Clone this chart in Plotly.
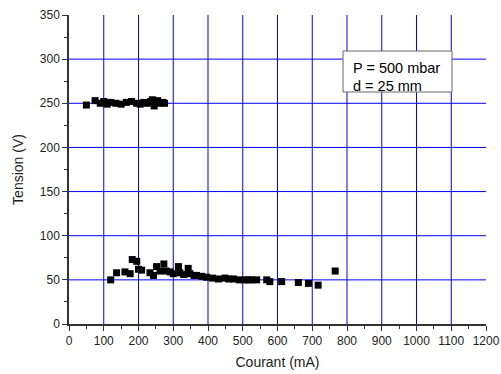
import plotly.graph_objects as go

# Upper branch (high-voltage regime)
x_high = [50, 75, 90, 100, 110, 120, 135, 150, 165, 180, 195, 205, 215, 225, 235, 240, 245, 255, 260, 270, 275]
y_high = [248, 253, 250, 252, 249, 251, 250, 249, 251, 252, 250, 249, 251, 250, 252, 254, 247, 253, 250, 251, 250]

# Lower branch
x_low = [120, 137, 161, 176, 182, 195, 200, 209, 233, 243, 252, 262, 273, 280, 291, 300, 315, 319, 330, 343,
         348, 360, 367, 382, 396, 413, 430, 449, 460, 473, 490, 506, 516, 526, 540, 569, 578, 612, 660, 689, 717, 766]
y_low = [50, 58, 59, 57, 73, 71, 62, 61, 58, 55, 65, 60, 68, 60, 59, 57, 65, 58, 56, 63,
         57, 55, 55, 54, 53, 52, 51, 52, 51, 51, 50, 50, 50, 50, 50, 50, 48, 48, 47, 46, 44, 60]

x_ticks = list(range(0, 1201, 100))
y_ticks = list(range(0, 351, 50))

X_MAX = 1200
Y_MAX = 350

legend_lines = ["P = 500 mbar", "d = 25 mm"]

marker = dict(symbol="square", size=7, color="black")

fig = go.Figure()

# blue grid lines at inner ticks only (none at axis ends)
for xv in x_ticks[1:-1]:
    fig.add_shape(type="line", xref="x", yref="paper", x0=xv, x1=xv, y0=0, y1=1,
                  line=dict(color="#0000ff", width=1), layer="below")
for yv in y_ticks[1:-1]:
    fig.add_shape(type="line", xref="paper", yref="y", x0=0, x1=1, y0=yv, y1=yv,
                  line=dict(color="#0000ff", width=1), layer="below")

fig.add_trace(go.Scatter(x=x_high, y=y_high, mode="markers", marker=marker, showlegend=False))
fig.add_trace(go.Scatter(x=x_low, y=y_low, mode="markers", marker=marker, showlegend=False))

FONT = "Arial, Liberation Sans, sans-serif"
axis_font = dict(family=FONT, size=12, color="#222")
title_font = dict(family=FONT, size=14, color="#222")
common = dict(ticks="outside", ticklen=5, tickcolor="#333", showline=True, linecolor="#333",
              linewidth=1.5, showgrid=False, zeroline=False, tickfont=axis_font, automargin=False)
fig.update_xaxes(range=[0, X_MAX], tickvals=x_ticks, **common,
                 minor=dict(dtick=50, ticks="outside", ticklen=3, tickcolor="#333", showgrid=False),
                 title=dict(text="Courant (mA)", font=title_font, standoff=10))
fig.update_yaxes(range=[0, Y_MAX], tickvals=y_ticks, **common,
                 minor=dict(dtick=25, ticks="outside", ticklen=3, tickcolor="#333", showgrid=False),
                 title=dict(text="Tension (V)", font=title_font, standoff=13))

pw = 417.0
ph = 309.0
fig.add_shape(type="rect", xref="paper", yref="paper",
              x0=(343 - 69) / pw, x1=(452 - 69) / pw, y0=(324 - 92) / ph, y1=(324 - 51) / ph,
              line=dict(color="#666", width=1), fillcolor="white", layer="above")
for txt, ypx in zip(legend_lines, [68, 86]):
    fig.add_annotation(xref="paper", yref="paper", x=(351 - 69) / pw, y=(324 - ypx) / ph,
                       xanchor="left", yanchor="middle", align="left", showarrow=False,
                       text=txt, font=dict(family=FONT, size=14.5, color="black"))

fig.update_layout(width=501, height=374, margin=dict(l=69, r=15, t=15, b=50),
                  plot_bgcolor="white", paper_bgcolor="white")

fig.write_html("out.html", config={"displayModeBar": False},
               post_script="document.body.style.margin='0';document.body.style.padding='0';"
                           "document.documentElement.style.overflow='hidden';")
